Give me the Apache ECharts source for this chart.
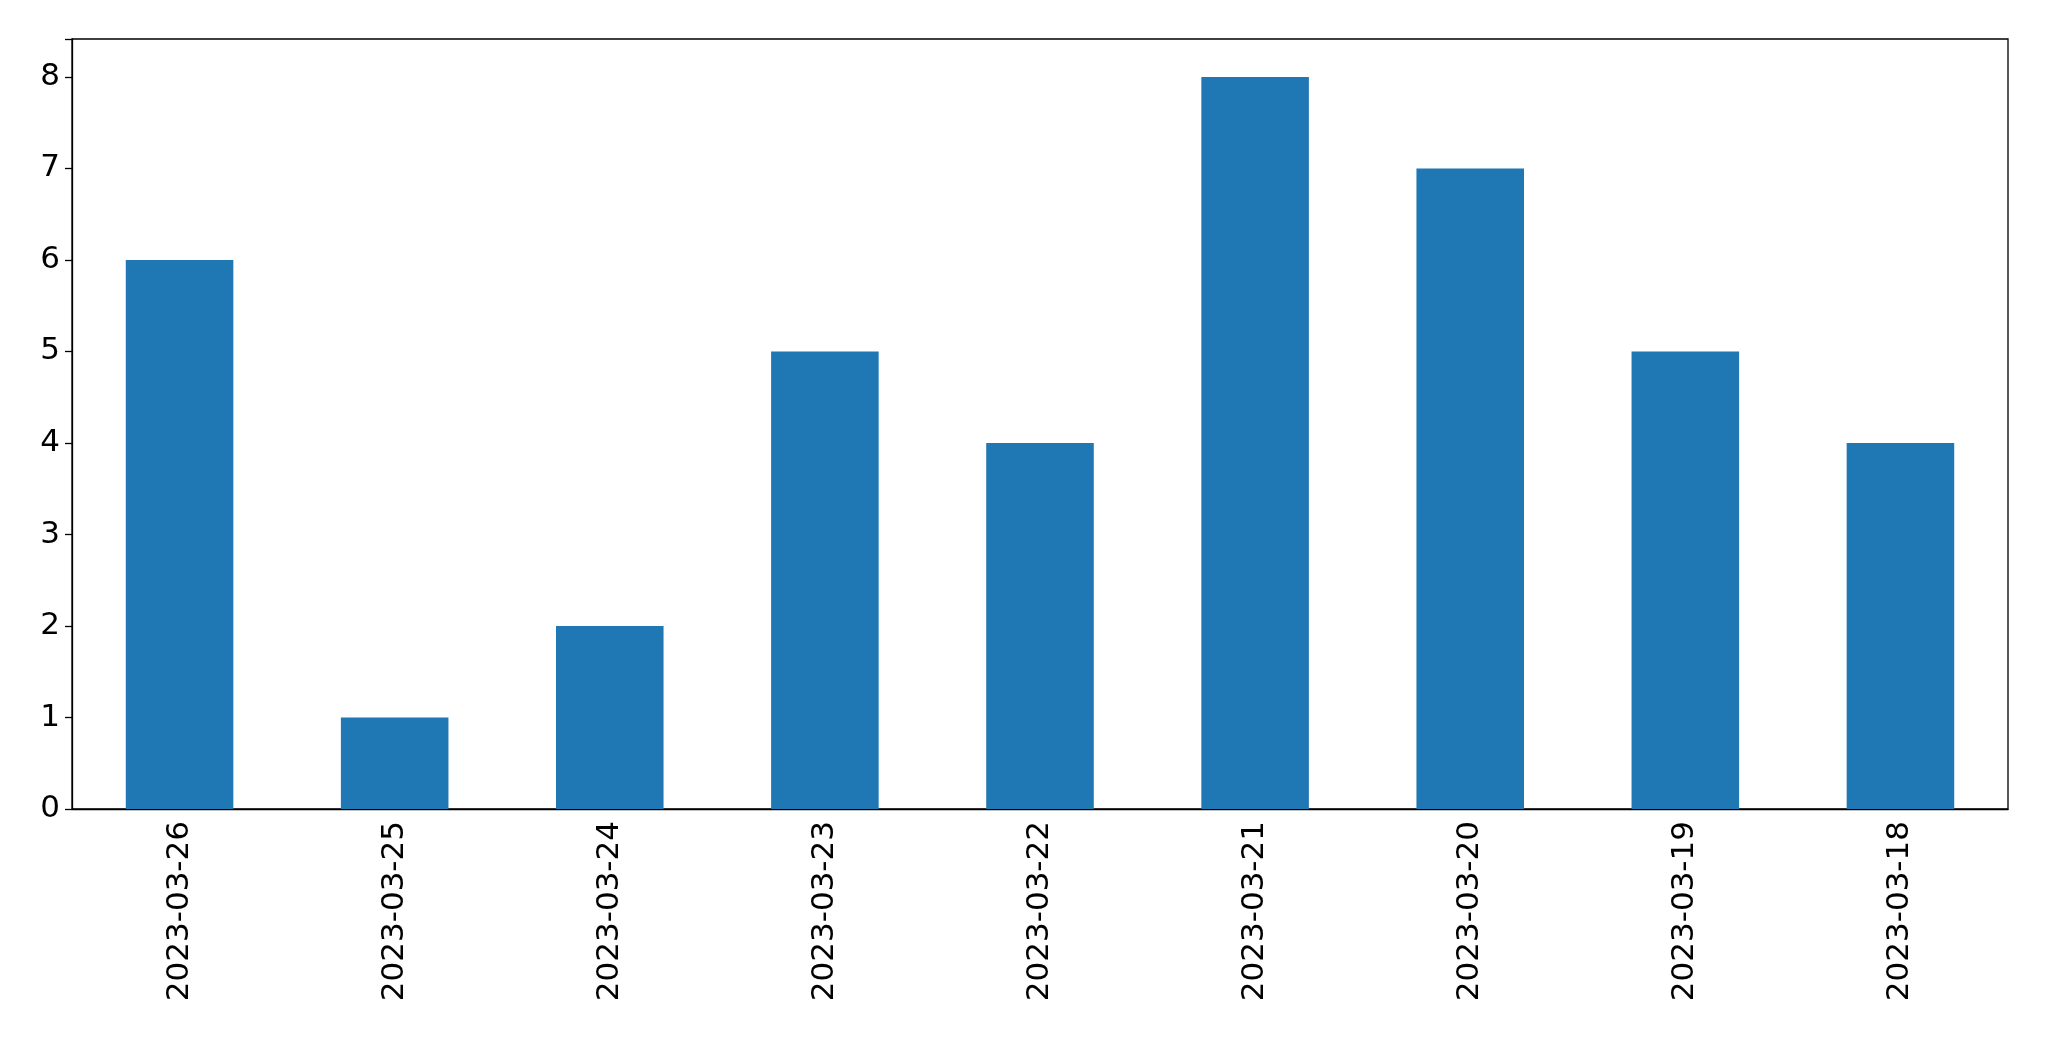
<!DOCTYPE html>
<html><head><meta charset="utf-8">
<script src="https://cdn.jsdelivr.net/npm/echarts@6/dist/echarts.min.js"></script>
<style>html,body{margin:0;padding:0;background:#fff}#c{width:2049px;height:1061px}</style>
</head><body><div id="c"></div>
<script>
const categories = ["2023-03-26","2023-03-25","2023-03-24","2023-03-23","2023-03-22","2023-03-21","2023-03-20","2023-03-19","2023-03-18"];
const values = [6,1,2,5,4,8,7,5,4];
const chart = echarts.init(document.getElementById('c'));
chart.setOption({
  animation:false,
  grid:{left:72,right:41,top:39,bottom:252,show:true,borderColor:'#000',borderWidth:1.3,backgroundColor:'transparent'},
  xAxis:{type:'category',data:categories,
    axisLine:{lineStyle:{color:'#000',width:1.3}},
    axisTick:{alignWithLabel:true,length:7,lineStyle:{color:'#000',width:1.3}},
    axisLabel:{rotate:90,color:'#000',fontSize:31,fontFamily:'DejaVu Sans',margin:12,interval:0}},
  yAxis:{type:'value',min:0,max:8.414,interval:1,
    axisLine:{show:true,lineStyle:{color:'#000',width:1.3}},
    axisTick:{show:true,length:7,lineStyle:{color:'#000',width:1.3}},
    splitLine:{show:false},
    axisLabel:{color:'#000',fontSize:31,fontFamily:'DejaVu Sans',margin:12,
      formatter:v=>Number.isInteger(v)?String(v):''}},
  series:[{type:'bar',data:values,barWidth:'50%',itemStyle:{color:'#1f77b4'}}]
});
</script></body></html>
